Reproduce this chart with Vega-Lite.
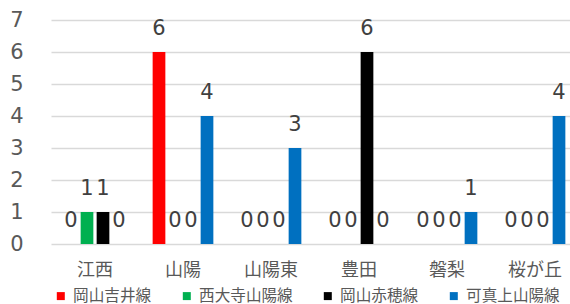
{
  "$schema": "https://vega.github.io/schema/vega-lite/v6.json",
  "width": 519,
  "height": 224,
  "autosize": {"type": "none"},
  "padding": {"left": 51, "top": 20, "right": 0, "bottom": 60},
  "background": "white",
  "config": {"view": {"stroke": null}, "font": "Noto Sans CJK JP"},
  "data": {
    "values": [
      {"area": "江西", "line": "岡山吉井線", "count": 0},
      {"area": "江西", "line": "西大寺山陽線", "count": 1},
      {"area": "江西", "line": "岡山赤穂線", "count": 1},
      {"area": "江西", "line": "可真上山陽線", "count": 0},
      {"area": "山陽", "line": "岡山吉井線", "count": 6},
      {"area": "山陽", "line": "西大寺山陽線", "count": 0},
      {"area": "山陽", "line": "岡山赤穂線", "count": 0},
      {"area": "山陽", "line": "可真上山陽線", "count": 4},
      {"area": "山陽東", "line": "岡山吉井線", "count": 0},
      {"area": "山陽東", "line": "西大寺山陽線", "count": 0},
      {"area": "山陽東", "line": "岡山赤穂線", "count": 0},
      {"area": "山陽東", "line": "可真上山陽線", "count": 3},
      {"area": "豊田", "line": "岡山吉井線", "count": 0},
      {"area": "豊田", "line": "西大寺山陽線", "count": 0},
      {"area": "豊田", "line": "岡山赤穂線", "count": 6},
      {"area": "豊田", "line": "可真上山陽線", "count": 0},
      {"area": "磐梨", "line": "岡山吉井線", "count": 0},
      {"area": "磐梨", "line": "西大寺山陽線", "count": 0},
      {"area": "磐梨", "line": "岡山赤穂線", "count": 0},
      {"area": "磐梨", "line": "可真上山陽線", "count": 1},
      {"area": "桜が丘", "line": "岡山吉井線", "count": 0},
      {"area": "桜が丘", "line": "西大寺山陽線", "count": 0},
      {"area": "桜が丘", "line": "岡山赤穂線", "count": 0},
      {"area": "桜が丘", "line": "可真上山陽線", "count": 4}
    ]
  },
  "encoding": {
    "x": {
      "field": "area",
      "type": "nominal",
      "sort": ["江西", "山陽", "山陽東", "豊田", "磐梨", "桜が丘"],
      "scale": {"range": [0, 528], "paddingInner": 0, "paddingOuter": 0},
      "axis": {
        "title": null,
        "labelAngle": 0,
        "ticks": false,
        "domain": false,
        "labelPadding": 17,
        "labelFontSize": 18,
        "labelColor": "#595959",
        "labelFont": "Noto Sans CJK JP"
      }
    },
    "xOffset": {
      "field": "line",
      "type": "nominal",
      "sort": ["岡山吉井線", "西大寺山陽線", "岡山赤穂線", "可真上山陽線"],
      "scale": {"paddingInner": 0.206, "paddingOuter": 0.853}
    },
    "y": {
      "field": "count",
      "type": "quantitative",
      "scale": {"domain": [0, 7]},
      "axis": {
        "title": null,
        "tickCount": 7,
        "grid": true,
        "gridColor": "#d9d9d9",
        "gridWidth": 1.5,
        "domain": false,
        "ticks": false,
        "labelPadding": 28,
        "labelFontSize": 21,
        "labelColor": "#595959",
        "labelFont": "DejaVu Sans"
      }
    }
  },
  "layer": [
    {
      "mark": {"type": "bar"},
      "encoding": {
        "color": {
          "field": "line",
          "type": "nominal",
          "scale": {
            "domain": ["岡山吉井線", "西大寺山陽線", "岡山赤穂線", "可真上山陽線"],
            "range": ["#ff0000", "#00b050", "#000000", "#0070c0"]
          },
          "legend": {
            "title": null,
            "orient": "none",
            "legendX": 2,
            "legendY": 268,
            "direction": "horizontal",
            "symbolType": "square",
            "symbolSize": 64,
            "symbolStrokeWidth": 0,
            "labelFontSize": 15.6,
            "labelColor": "#595959",
            "labelFont": "Noto Sans CJK JP",
            "labelOffset": 4.5,
            "columnPadding": 27,
            "padding": 0
          }
        }
      }
    },
    {
      "mark": {
        "type": "text",
        "baseline": "alphabetic",
        "align": "center",
        "dy": -17,
        "fontSize": 21,
        "color": "#404040",
        "font": "DejaVu Sans"
      },
      "encoding": {
        "text": {"field": "count", "type": "quantitative"}
      }
    }
  ]
}
